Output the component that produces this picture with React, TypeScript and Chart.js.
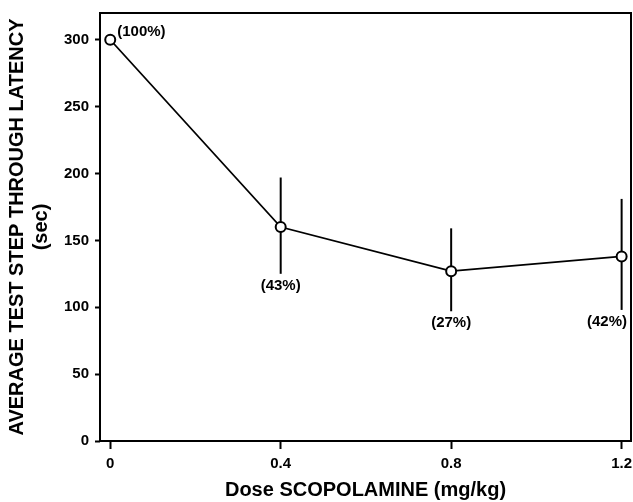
import React, { useEffect, useRef } from "react";
import { Chart, registerables } from "chart.js";
Chart.register(...registerables);

const doses = [0, 0.4, 0.8, 1.2];
const latency = [300, 160, 127, 138];
const errHigh: (number | null)[] = [null, 197, 159, 181];
const errLow: (number | null)[] = [null, 125, 97, 98];
const percentLabels = ["(100%)", "(43%)", "(27%)", "(42%)"];
const xTickValues = [0, 0.4, 0.8, 1.2];
const yTickValues = [0, 50, 100, 150, 200, 250, 300];
const yTitle = ["AVERAGE TEST STEP THROUGH LATENCY", "(sec)"];
const xTitle = "Dose SCOPOLAMINE (mg/kg)";

const FONT = "'Liberation Sans', Arial, Helvetica, sans-serif";

const figurePlugin = {
  id: "figurePlugin",
  beforeDatasetsDraw(chart: any) {
    const { ctx, scales } = chart;
    const xs = scales.x;
    const ys = scales.y;
    ctx.save();
    ctx.strokeStyle = "#000";
    ctx.lineWidth = 2;
    for (let i = 0; i < doses.length; i++) {
      const hi = errHigh[i];
      const lo = errLow[i];
      if (hi == null || lo == null) continue;
      const x = xs.getPixelForValue(doses[i]);
      ctx.beginPath();
      ctx.moveTo(x, ys.getPixelForValue(hi));
      ctx.lineTo(x, ys.getPixelForValue(lo));
      ctx.stroke();
    }
    ctx.restore();
  },
  afterDatasetsDraw(chart: any) {
    const { ctx, scales, chartArea } = chart;
    const xs = scales.x;
    const ys = scales.y;
    ctx.save();
    ctx.strokeStyle = "#000";
    ctx.lineWidth = 2;
    ctx.strokeRect(chartArea.left, chartArea.top, chartArea.right - chartArea.left, chartArea.bottom - chartArea.top);
    ctx.fillStyle = "#000";
    ctx.font = `bold 15px ${FONT}`;
    ctx.textBaseline = "middle";
    for (let i = 0; i < doses.length; i++) {
      const px = xs.getPixelForValue(doses[i]);
      const py = ys.getPixelForValue(latency[i]);
      const text = percentLabels[i];
      const lo = errLow[i];
      if (lo == null) {
        ctx.textAlign = "left";
        ctx.fillText(text, px + 7, py - 8);
      } else {
        const ty = ys.getPixelForValue(lo) + 12;
        const w = ctx.measureText(text).width;
        if (px + w / 2 > chartArea.right - 4) {
          ctx.textAlign = "right";
          ctx.fillText(text, chartArea.right - 4, ty);
        } else {
          ctx.textAlign = "center";
          ctx.fillText(text, px, ty);
        }
      }
    }
    ctx.restore();
  },
};

export default function App() {
  const canvasRef = useRef<HTMLCanvasElement | null>(null);

  useEffect(() => {
    document.body.style.margin = "0";
    const canvas = canvasRef.current;
    if (!canvas) return;
    const chart = new Chart(canvas, {
      type: "line",
      data: {
        datasets: [
          {
            data: doses.map((d, i) => ({ x: d, y: latency[i] })),
            borderColor: "#000",
            borderWidth: 1.8,
            pointRadius: 5,
            pointBorderWidth: 2,
            pointBackgroundColor: "#fff",
            pointBorderColor: "#000",
            tension: 0,
            fill: false,
            clip: false,
          },
        ],
      },
      options: {
        animation: false,
        responsive: false,
        maintainAspectRatio: false,
        layout: { autoPadding: false, padding: { top: 13, right: 2, left: 0, bottom: 0 } },
        plugins: {
          legend: { display: false },
          tooltip: { enabled: false },
        },
        scales: {
          x: {
            type: "linear",
            min: -0.024,
            max: 1.222,
            afterBuildTicks: (scale: any) => {
              scale.ticks = xTickValues.map((v) => ({ value: v }));
            },
            afterFit: (scale: any) => {
              scale.height = 61;
              scale.paddingLeft = 0;
              scale.paddingRight = 0;
            },
            grid: {
              display: true,
              drawOnChartArea: false,
              drawTicks: true,
              tickLength: 8,
              tickWidth: 2,
              tickColor: "#000",
            },
            border: { display: false },
            ticks: {
              padding: 6,
              color: "#000",
              maxRotation: 0,
              font: { family: FONT, size: 15, weight: "bold" },
              callback: (v: any) => String(v),
            },
            title: {
              display: true,
              text: xTitle,
              color: "#000",
              font: { family: FONT, size: 20, weight: "bold", lineHeight: 1.2 },
              padding: { top: 0, bottom: 0 },
            },
          },
          y: {
            type: "linear",
            min: 0,
            max: 320,
            afterBuildTicks: (scale: any) => {
              scale.ticks = yTickValues.map((v) => ({ value: v }));
            },
            afterFit: (scale: any) => {
              scale.width = 100;
              scale.paddingTop = 0;
              scale.paddingBottom = 0;
            },
            grid: {
              display: true,
              drawOnChartArea: false,
              drawTicks: true,
              tickLength: 5,
              tickWidth: 2,
              tickColor: "#000",
            },
            border: { display: false },
            ticks: {
              padding: 6,
              color: "#000",
              font: { family: FONT, size: 15, weight: "bold" },
              callback: (v: any) => String(v),
            },
            title: {
              display: true,
              text: yTitle,
              color: "#000",
              font: { family: FONT, size: 20, weight: "bold", lineHeight: 1.2 },
              padding: { top: 5, bottom: 0 },
            },
          },
        },
      },
      plugins: [figurePlugin],
    } as any);
    return () => chart.destroy();
  }, []);

  return (
    <div style={{ width: 633, height: 502 }}>
      <canvas ref={canvasRef} width={633} height={502} style={{ display: "block" }} />
    </div>
  );
}
